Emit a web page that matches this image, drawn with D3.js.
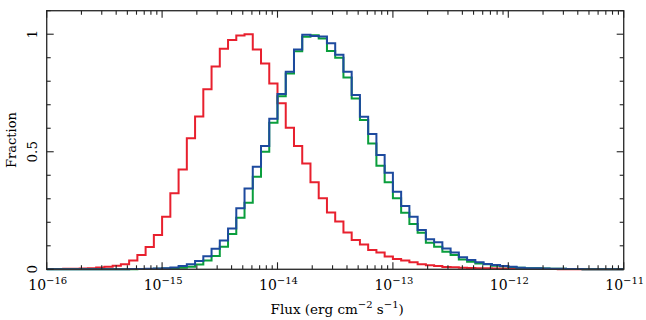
<!DOCTYPE html>
<html>
<head>
<meta charset="utf-8">
<script src="https://cdn.jsdelivr.net/npm/d3@7"></script>
<style>
  body { margin: 0; background: #fff; }
  svg { display: block; }
  text { font-family: "DejaVu Serif", serif; fill: #000; }
</style>
</head>
<body>
<svg id="chart" width="646" height="320"></svg>
<script>
// log10 flux bins: 14 per decade, starting at 1e-16
const logStart = -16;
const binsPerDecade = 14;

const redFrac = [
  0.001, 0.001, 0.002, 0.002, 0.003, 0.005, 0.008, 0.011, 0.015, 0.021,
  0.037, 0.061, 0.095, 0.146, 0.224, 0.323, 0.425, 0.557, 0.650, 0.766,
  0.863, 0.938, 0.975, 0.994, 1.000, 0.935, 0.875, 0.790, 0.706, 0.602,
  0.524, 0.450, 0.370, 0.302, 0.242, 0.203, 0.157, 0.125, 0.106, 0.082,
  0.071, 0.054, 0.044, 0.037, 0.030, 0.022, 0.017, 0.014, 0.010, 0.009,
  0.007, 0.006, 0.005, 0.004, 0.003, 0.003, 0.002, 0.002, 0.001, 0.001,
  0.001, 0.001, 0, 0, 0, 0, 0, 0, 0, 0
];
const greenFrac = [
  0, 0, 0, 0, 0, 0, 0, 0, 0, 0,
  0, 0.001, 0.001, 0.002, 0.003, 0.005, 0.007, 0.011, 0.020, 0.037,
  0.057, 0.096, 0.150, 0.219, 0.283, 0.394, 0.500, 0.623, 0.736, 0.833,
  0.928, 0.989, 0.996, 0.982, 0.929, 0.900, 0.816, 0.727, 0.635, 0.535,
  0.440, 0.370, 0.302, 0.241, 0.193, 0.156, 0.113, 0.096, 0.075, 0.061,
  0.042, 0.032, 0.025, 0.021, 0.015, 0.013, 0.010, 0.007, 0.005, 0.004,
  0.003, 0.002, 0.002, 0.001, 0.001, 0, 0, 0, 0, 0
];
const blueFrac = [
  0, 0, 0, 0, 0, 0, 0, 0, 0, 0,
  0.001, 0.001, 0.002, 0.003, 0.005, 0.008, 0.014, 0.022, 0.035, 0.056,
  0.087, 0.122, 0.174, 0.260, 0.344, 0.436, 0.525, 0.640, 0.746, 0.840,
  0.935, 0.998, 0.992, 0.990, 0.962, 0.913, 0.840, 0.741, 0.649, 0.576,
  0.486, 0.411, 0.330, 0.269, 0.224, 0.167, 0.128, 0.115, 0.089, 0.071,
  0.051, 0.040, 0.030, 0.023, 0.018, 0.014, 0.011, 0.007, 0.005, 0.004,
  0.003, 0.002, 0.002, 0.001, 0.001, 0, 0, 0, 0, 0
];

const xDecades = [-16, -15, -14, -13, -12, -11];
const yMajor = [0, 0.5, 1];
const yLabels = ['0', '0.5', '1'];

const series = [
  {name: 'red', values: redFrac, color: '#e8202e'},
  {name: 'green', values: greenFrac, color: '#0a9e3c'},
  {name: 'blue', values: blueFrac, color: '#1d4a9e'},
];

const margin = {left: 46.7, right: 22.3, top: 10.7, bottom: 50.7};
const W = 646, H = 320;

const svg = d3.select('#chart');

const x = d3.scaleLog()
  .domain([1e-16, 1e-11])
  .range([margin.left, W - margin.right]);
const y = d3.scaleLinear()
  .domain([0, 1.1])
  .range([H - margin.bottom, margin.top]);

const x0 = x.range()[0], x1 = x.range()[1];
const y0 = y.range()[0], y1 = y.range()[1];

// histogram step lines
const edge = i => Math.pow(10, logStart + i / binsPerDecade);
const line = d3.line()
  .x(d => x(d[0]))
  .y(d => y(d[1]))
  .curve(d3.curveStepAfter);

const gLines = svg.append('g').attr('class', 'hists');
series.forEach(s => {
  const pts = s.values.map((v, i) => [edge(i), v]);
  pts.push([edge(s.values.length), s.values[s.values.length - 1]]);
  gLines.append('path')
    .attr('d', line(pts))
    .attr('fill', 'none')
    .attr('stroke', s.color)
    .attr('stroke-width', 2)
    .attr('stroke-linejoin', 'miter');
});

// frame
svg.append('rect')
  .attr('x', x0).attr('y', y1)
  .attr('width', x1 - x0).attr('height', y0 - y1)
  .attr('fill', 'none')
  .attr('stroke', '#333')
  .attr('stroke-width', 1.4);

// x ticks (top and bottom, inward)
const gTicks = svg.append('g').attr('stroke', '#222').attr('stroke-width', 1.1);
x.ticks().forEach(t => {
  const isMajor = Math.abs(Math.log10(t) - Math.round(Math.log10(t))) < 1e-6;
  const len = isMajor ? 7 : 4;
  const px = x(t);
  gTicks.append('line').attr('x1', px).attr('x2', px).attr('y1', y0).attr('y2', y0 - len);
  gTicks.append('line').attr('x1', px).attr('x2', px).attr('y1', y1).attr('y2', y1 + len);
});

// y ticks (left and right, inward)
y.ticks(11).forEach(t => {
  const isMajor = yMajor.some(m => Math.abs(m - t) < 1e-6);
  const len = isMajor ? 7 : 4;
  const py = y(t);
  gTicks.append('line').attr('x1', x0).attr('x2', x0 + len).attr('y1', py).attr('y2', py);
  gTicks.append('line').attr('x1', x1).attr('x2', x1 - len).attr('y1', py).attr('y2', py);
});

// x tick labels: 10^n
xDecades.forEach(n => {
  const tx = svg.append('text')
    .attr('x', x(Math.pow(10, n)) + 1)
    .attr('y', y0 + 21)
    .attr('text-anchor', 'middle')
    .style('font-size', '14px');
  tx.append('tspan').text('10');
  tx.append('tspan')
    .attr('dy', -6)
    .style('font-size', '10px')
    .text('\u2212' + Math.abs(n));
});

// y tick labels, rotated
yMajor.forEach((v, i) => {
  svg.append('text')
    .attr('transform', `translate(${x0 - 10},${y(v)}) rotate(-90)`)
    .attr('text-anchor', 'middle')
    .style('font-size', '13.5px')
    .text(yLabels[i]);
});

// axis titles
svg.append('text')
  .attr('transform', `translate(16,${(y0 + y1) / 2}) rotate(-90)`)
  .attr('text-anchor', 'middle')
  .style('font-size', '13px')
  .text('Fraction');

const xt = svg.append('text')
  .attr('x', (x0 + x1) / 2 + 2)
  .attr('y', H - 6)
  .attr('text-anchor', 'middle')
  .style('font-size', '13.5px');
xt.append('tspan').text('Flux (erg cm');
xt.append('tspan').attr('dy', -6).style('font-size', '10px').text('\u22122');
xt.append('tspan').attr('dy', 6).text(' s');
xt.append('tspan').attr('dy', -6).style('font-size', '10px').text('\u22121');
xt.append('tspan').attr('dy', 6).text(')');
</script>
</body>
</html>
